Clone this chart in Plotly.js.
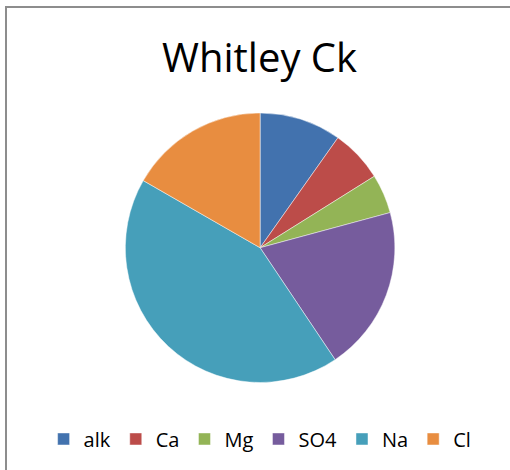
<!DOCTYPE html>
<html>
<head>
<meta charset="utf-8">
<script src="https://cdn.plot.ly/plotly-3.0.1.min.js"></script>
<style>
  html, body { margin: 0; padding: 0; width: 510px; height: 470px; overflow: hidden; background: #ffffff; }
  #chart { position: absolute; left: 0; top: 0; width: 510px; height: 470px; }
  #frame { position: absolute; left: 5px; top: 6px; width: 520px; height: 480px;
           border: 2px solid #8d8d8d; pointer-events: none; box-sizing: border-box; }
</style>
</head>
<body>
<div id="chart"></div>
<div id="frame"></div>
<script>
// Major ion composition, Whitley Ck (percent share)
const ions = ['alk', 'Ca', 'Mg', 'SO4', 'Na', 'Cl'];
const shares = [9.8, 6.3, 4.7, 19.8, 42.7, 16.7];
const ionColors = ['#4272AE', '#BC4C49', '#93B456', '#765C9D', '#469FBA', '#E88D40'];

const chartTitle = 'Whitley Ck';

const trace = {
  type: 'pie',
  labels: ions,
  values: shares,
  sort: false,
  direction: 'clockwise',
  rotation: 0,
  textinfo: 'none',
  hoverinfo: 'label+percent',
  marker: { colors: ionColors, line: { color: 'rgba(255,255,255,0.45)', width: 1 } },
  domain: { x: [0.245, 0.775], y: [0.1862, 0.7596] }
};

const layout = {
  width: 510,
  height: 470,
  margin: { l: 0, r: 0, t: 0, b: 0 },
  paper_bgcolor: '#ffffff',
  showlegend: true,
  legend: {
    orientation: 'h',
    x: 0.51, xanchor: 'center',
    y: 0.066, yanchor: 'middle',
    font: { family: '"Open Sans", sans-serif', size: 20, color: '#000000' },
    itemclick: false, itemdoubleclick: false
  },
  annotations: [{
    text: chartTitle,
    xref: 'paper', yref: 'paper',
    x: 0.508, y: 0.88, xanchor: 'center', yanchor: 'middle',
    showarrow: false,
    font: { family: '"Open Sans", sans-serif', size: 40, color: '#000000' }
  }]
};

Plotly.newPlot('chart', [trace], layout, { displayModeBar: false, staticPlot: true });
</script>
</body>
</html>
